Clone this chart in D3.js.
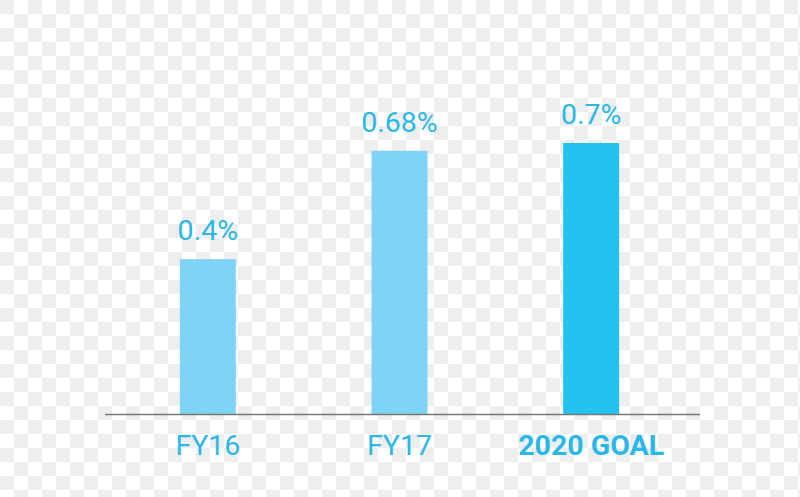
<!DOCTYPE html>
<html>
<head>
<meta charset="utf-8">
<script src="https://cdn.jsdelivr.net/npm/d3@7"></script>
<style>
  body {
    margin: 0;
    background-color: #ffffff;
    background-image: conic-gradient(#ffffff 0 25%, #eeeeee 0 50%, #ffffff 0 75%, #eeeeee 0);
    background-size: 28px 28px;
  }
  svg { display: block; }
</style>
</head>
<body>
<div id="chart"></div>
<script>
const categories = ["FY16", "FY17", "2020 GOAL"];
const values = [0.4, 0.68, 0.7];
const valueLabels = ["0.4%", "0.68%", "0.7%"];

const width = 800;
const height = 497;

const svg = d3.select("#chart").append("svg")
              .attr("width", width)
              .attr("height", height);

const x = d3.scaleBand()
            .domain(categories)
            .range([112, 687])
            .paddingInner(0.708)
            .paddingOuter(0.354);

const y = d3.scaleLinear()
            .domain([0, 0.7])
            .range([414, 143]);

const barColor = (d, i) => i === 2 ? "#22c3ef" : "#7dd4f6";
const textColor = "#29b8e8";

svg.selectAll("rect.bar")
   .data(values)
   .enter().append("rect")
   .attr("class", "bar")
   .attr("x", (d, i) => x(categories[i]))
   .attr("y", d => y(d))
   .attr("width", x.bandwidth())
   .attr("height", d => y(0) - y(d))
   .attr("fill", barColor);

svg.selectAll("text.value")
   .data(values)
   .enter().append("text")
   .attr("class", "value")
   .attr("x", (d, i) => x(categories[i]) + x.bandwidth() / 2)
   .attr("y", d => y(d) - 19)
   .attr("text-anchor", "middle")
   .attr("font-family", "Roboto, sans-serif")
   .attr("font-size", 28.5)
   .attr("fill", textColor)
   .text((d, i) => valueLabels[i]);

// baseline
svg.append("line")
   .attr("x1", 105)
   .attr("x2", 700)
   .attr("y1", 414.5)
   .attr("y2", 414.5)
   .attr("stroke", "#777")
   .attr("stroke-width", 1.5);

svg.selectAll("text.cat")
   .data(categories)
   .enter().append("text")
   .attr("class", "cat")
   .attr("x", d => x(d) + x.bandwidth() / 2)
   .attr("y", 455)
   .attr("text-anchor", "middle")
   .attr("font-family", "Roboto, sans-serif")
   .attr("font-size", 28.5)
   .attr("font-weight", (d, i) => i === 2 ? "bold" : "normal")
   .attr("fill", textColor)
   .text(d => d);
</script>
</body>
</html>
